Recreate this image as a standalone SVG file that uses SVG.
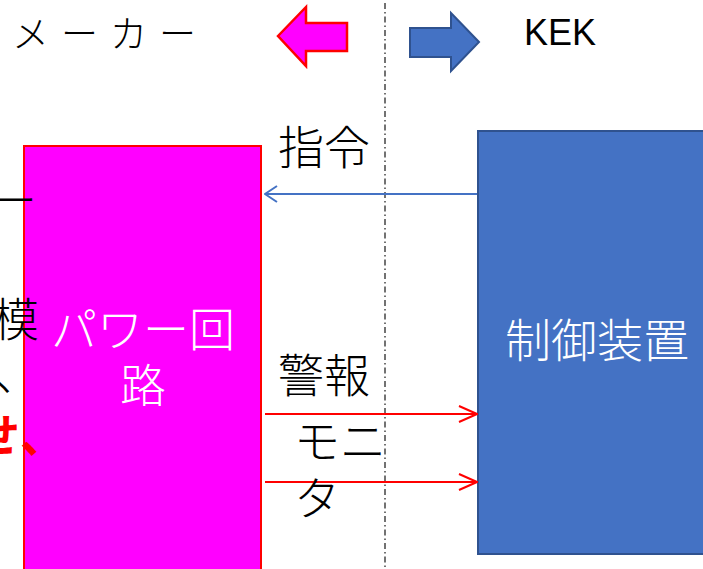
<svg xmlns="http://www.w3.org/2000/svg" width="703" height="569" viewBox="0 0 703 569">
<style>
.t{font-family:"Noto Sans CJK JP","Liberation Sans",sans-serif;font-size:46px;font-weight:300;fill:#000}
.w{fill:#fff}
</style>
<defs>
<marker id="ab" viewBox="0 0 14 20" refX="13" refY="10" markerWidth="14" markerHeight="20" markerUnits="userSpaceOnUse" orient="auto"><path d="M1,2 L13,10 L1,18" fill="none" stroke="#4472C4" stroke-width="2"/></marker>
<marker id="ar" viewBox="0 0 20 20" refX="19" refY="10" markerWidth="20" markerHeight="20" markerUnits="userSpaceOnUse" orient="auto"><path d="M1,2 L19,10 L1,18" fill="none" stroke="#FF0000" stroke-width="2"/></marker>
</defs>
<rect width="703" height="569" fill="#fff"/>
<g id="divider"><line x1="385" y1="3" x2="385" y2="569" stroke="#444" stroke-width="1.5" stroke-dasharray="6,3,1.5,3"/></g>
<g id="maker-label"><text class="t" x="12" y="48" style="font-size:37px;letter-spacing:12px">メーカー</text></g>
<g id="kek-label"><text x="524" y="45" style="font-family:'Liberation Sans',sans-serif;font-size:36px">KEK</text></g>
<g id="maker-arrow"><path d="M278,36 L306,7 L306,23 L347,23 L347,51 L306,51 L306,66 Z" fill="#FF00FF" stroke="#FF0000" stroke-width="2.5"/></g>
<g id="kek-arrow"><path d="M479,42 L451,13 L451,28 L410,28 L410,57 L451,57 L451,71 Z" fill="#4472C4" stroke="#2F528F" stroke-width="2"/></g>
<g id="power-circuit">
<rect x="24" y="146" width="237" height="430" fill="#FF00FF" stroke="#FF0000" stroke-width="2"/>
<text class="t w" x="143" y="346" text-anchor="middle">パワー回</text>
<text class="t w" x="143" y="402" text-anchor="middle">路</text>
</g>
<g id="left-text">
<text class="t" x="-9" y="217">ー</text>
<text class="t" x="-7" y="336">模</text>
<text class="t" x="-6" y="390">、</text>
<text class="t" x="-26" y="452" style="fill:#FF0000;font-weight:bold">せ、</text>
</g>
<g id="controller">
<rect x="478" y="131" width="240" height="423" fill="#4472C4" stroke="#2F528F" stroke-width="2"/>
<text class="t w" x="597" y="357" text-anchor="middle">制御装置</text>
</g>
<g id="connectors">
<line x1="477" y1="194" x2="265" y2="194" stroke="#4472C4" stroke-width="2" marker-end="url(#ab)"/>
<line x1="265" y1="414" x2="477" y2="414" stroke="#FF0000" stroke-width="2" marker-end="url(#ar)"/>
<line x1="265" y1="482" x2="477" y2="482" stroke="#FF0000" stroke-width="2" marker-end="url(#ar)"/>
</g>
<g id="labels">
<text class="t" x="278" y="164">指令</text>
<text class="t" x="278" y="392">警報</text>
<text class="t" x="294" y="458">モニ</text>
<text class="t" x="294" y="515">タ</text>
</g>
</svg>
